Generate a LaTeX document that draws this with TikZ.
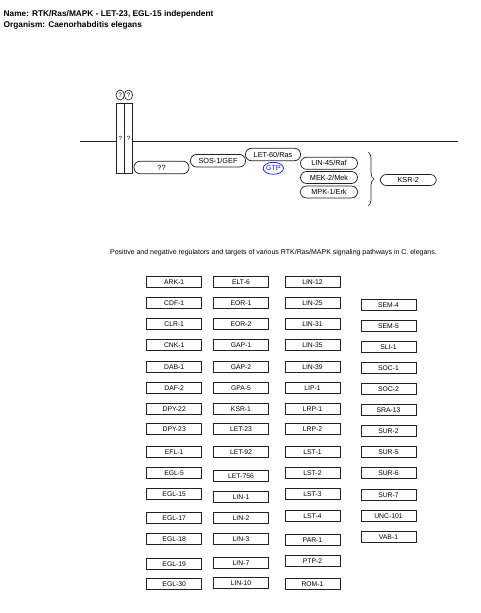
\documentclass[tikz,border=0pt]{standalone}
\usepackage{fontspec}
\setmainfont{Liberation Sans}
\usepackage{xcolor}
\usepackage{tikz}
\usetikzlibrary{
  positioning, shapes.geometric, decorations.pathreplacing
}
\definecolor{pwline}{HTML}{222222}
\definecolor{pwblue}{HTML}{1A1AFF}
\definecolor{pwgray}{HTML}{8A8A8A}

\begin{document}
\begin{tikzpicture}[
  x=1pt, y=-1pt,
  every node/.style={inner sep=0pt},
  pill/.style={
    rectangle, rounded corners=6pt, draw=pwline, fill=white,
    line width=0.75pt, minimum width=55pt, minimum height=12.5pt,
    font=\fontsize{7.3}{8}\selectfont
  },
  gene/.style={
    rectangle, draw=pwline, fill=white, line width=0.75pt,
    minimum width=55pt, minimum height=10.5pt,
    font=\fontsize{6.8}{8}\selectfont
  },
  rcpt/.style={
    rectangle, draw=pwline, fill=white, line width=0.75pt,
    minimum width=8.3pt, minimum height=70pt,
    font=\fontsize{6}{7}\selectfont
  },
  lig/.style={
    ellipse, draw=pwline, fill=white, line width=0.65pt,
    minimum width=8.3pt, minimum height=10pt,
    font=\fontsize{6.5}{7}\selectfont
  },
  gtp/.style={
    ellipse, draw=pwblue, line width=0.75pt, text=pwblue,
    minimum width=16pt, minimum height=12pt,
    font=\fontsize{7}{8}\selectfont
  },
  memb/.style={line width=0.75pt, color=pwline},
  brc/.style={decorate, decoration={brace, amplitude=6pt},
    line width=0.65pt, color=pwline},
  hdr/.style={anchor=west, font=\fontsize{8.3}{10}\selectfont\bfseries},
]
\useasboundingbox (0,0) rectangle (480,613);

% Header
\node[hdr] (name) at (3.5,14) {Name: RTK/Ras/MAPK - LET-23, EGL-15 independent};
\node[hdr] (org) at (3.5,25) {Organism: Caenorhabditis elegans};

% Membrane and receptor
\coordinate (memL) at (80,141.5);
\coordinate (memR) at (458,141.5);
\draw[memb] (memL) -- (memR);

\node[rcpt] (rec1) at (120.2,138.3) {?};
\node[rcpt] (rec2) at (128.5,138.3) {?};
\node[lig] (lig1) at (120.2,95) {?};
\node[lig] (lig2) at (128.5,95) {?};

% Cascade
\node[pill] (unk) at (161.5,167.5) {??};
\node[pill] (sos) at (218,160.7) {SOS-1/GEF};
\node[pill] (ras) at (273,154.5) {LET-60/Ras};
\node[gtp] (gtpn) at (273.3,168.3) {GTP};
\node[pill, minimum width=57pt, minimum height=12pt] (raf) at (329,163.3) {LIN-45/Raf};
\node[pill, minimum width=57pt, minimum height=12pt] (mek) at (329,177.5) {MEK-2/Mek};
\node[pill, minimum width=57pt, minimum height=12pt] (erk) at (329,192) {MPK-1/Erk};

\coordinate (brtop) at (368,152);
\coordinate (brbot) at (368,206);
\draw[brc] (brtop) -- (brbot);
\node[pill, minimum width=56pt, minimum height=11pt] (ksr) at (408.3,180) {KSR-2};

% Regulators and targets
\node[font=\fontsize{7}{8}\selectfont] (cap) at (273.5,252.5)
  {Positive and negative regulators and targets of various RTK/Ras/MAPK signaling pathways in C. elegans.};

\foreach \g/\y [count=\i] in {ARK-1/282, CDF-1/303, CLR-1/324, CNK-1/345,
    DAB-1/367, DAF-2/388, DPY-22/409, DPY-23/429, EFL-1/452, EGL-5/473,
    EGL-15/494, EGL-17/518, EGL-18/539, EGL-19/564, EGL-30/584}
  \node[gene] (ca\i) at (174.2,\y) {\g};

\foreach \g/\y [count=\i] in {ELT-6/282, EOR-1/303, EOR-2/324, GAP-1/345,
    GAP-2/367, GPA-5/388, KSR-1/409, LET-23/429, LET-92/452, LET-756/476,
    LIN-1/497, LIN-2/518, LIN-3/539, LIN-7/563, LIN-10/583}
  \node[gene] (cb\i) at (241,\y) {\g};

\foreach \g/\y [count=\i] in {LIN-12/282, LIN-25/303, LIN-31/324, LIN-35/345,
    LIN-39/367, LIP-1/388, LRP-1/409, LRP-2/429, LST-1/452, LST-2/473,
    LST-3/494, LST-4/516, PAR-1/540, PTP-2/561, ROM-1/584}
  \node[gene] (cc\i) at (312.5,\y) {\g};

\foreach \g/\y [count=\i] in {SEM-4/305, SEM-5/326, SLI-1/347, SOC-1/368,
    SOC-2/389, SRA-13/410, SUR-2/431, SUR-5/452, SUR-6/473, SUR-7/495,
    UNC-101/516, VAB-1/537}
  \node[gene] (cd\i) at (388.5,\y) {\g};

\end{tikzpicture}
\end{document}
